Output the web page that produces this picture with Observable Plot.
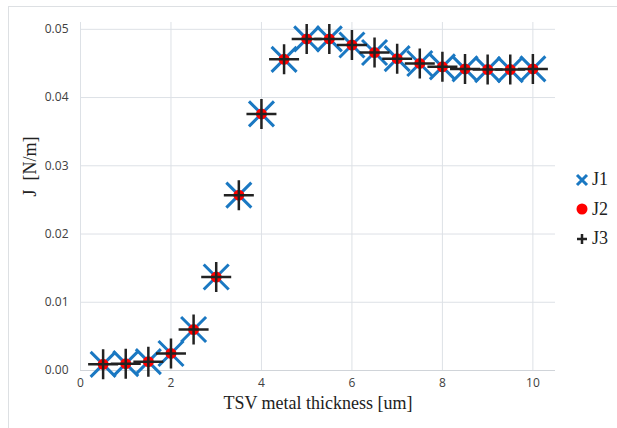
<!DOCTYPE html>
<html>
<head>
<meta charset="utf-8">
<script src="https://cdn.jsdelivr.net/npm/d3@7"></script>
<script src="https://cdn.jsdelivr.net/npm/@observablehq/plot@0.6"></script>
<style>
  body { margin: 0; background: #fff; }
  #wrap { position: relative; width: 617px; height: 428px; overflow: hidden; }
  #border { position: absolute; left: 8px; top: 6px; width: 640px; height: 440px; border: 1px solid #dde0e3; box-sizing: border-box; }
  #chart { position: absolute; left: 0; top: 0; }
  #legend { position: absolute; left: 574px; top: 165px; font-family: "Times New Roman", "DejaVu Serif", serif; font-size: 18px; color: #222; }
  .li { display: flex; align-items: center; height: 29.5px; }
  .li svg { margin-right: 2px; }
</style>
</head>
<body>
<div id="wrap">
  <div id="border"></div>
  <div id="chart"></div>
  <div id="legend">
    <div class="li"><svg width="16" height="16"><path d="M3,3L13,13M3,13L13,3" stroke="#1a78c2" stroke-width="3"/></svg>J1</div>
    <div class="li"><svg width="16" height="16"><circle cx="8" cy="8" r="5.5" fill="#ff0000"/></svg>J2</div>
    <div class="li"><svg width="16" height="16"><path d="M3,8L13,8M8,3L8,13" stroke="#222" stroke-width="2.5"/></svg>J3</div>
  </div>
</div>
<script>
const thickness = [0.5, 1, 1.5, 2, 2.5, 3, 3.5, 4, 4.5, 5, 5.5, 6, 6.5, 7, 7.5, 8, 8.5, 9, 9.5, 10];
const J1 = [0.0009, 0.0010, 0.0013, 0.0025, 0.0060, 0.0137, 0.0257, 0.0376, 0.0456, 0.0486, 0.0486, 0.0477, 0.0466, 0.0457, 0.0450, 0.0445, 0.0442, 0.0441, 0.0441, 0.0442];
const J2 = [0.0009, 0.0010, 0.0013, 0.0025, 0.0060, 0.0137, 0.0257, 0.0376, 0.0456, 0.0486, 0.0486, 0.0477, 0.0466, 0.0457, 0.0450, 0.0445, 0.0442, 0.0441, 0.0441, 0.0442];
const J3 = [0.0009, 0.0010, 0.0013, 0.0025, 0.0060, 0.0137, 0.0257, 0.0376, 0.0456, 0.0486, 0.0486, 0.0477, 0.0466, 0.0457, 0.0450, 0.0445, 0.0442, 0.0441, 0.0441, 0.0442];
const xTicks = [0, 2, 4, 6, 8, 10];
const yTicks = [0, 0.01, 0.02, 0.03, 0.04, 0.05];
const xLabel = "TSV metal thickness [um]";
const yLabel = "J\u00a0 [N/m]";
const serif = "'Times New Roman', 'DejaVu Serif', serif";

const data = thickness.map((x, i) => ({x, j1: J1[i], j2: J2[i], j3: J3[i]}));

const timesSym = {draw(ctx) { const r = 12.5; ctx.moveTo(-r, -r); ctx.lineTo(r, r); ctx.moveTo(-r, r); ctx.lineTo(r, -r); }};
const plusSym = {draw(ctx) { const r = 15; ctx.moveTo(-r, 0); ctx.lineTo(r, 0); ctx.moveTo(0, -r); ctx.lineTo(0, r); }};

const chart = Plot.plot({
  width: 617,
  height: 428,
  marginLeft: 80,
  marginRight: 62,
  marginTop: 22,
  marginBottom: 58,
  style: {fontFamily: "'Open Sans', sans-serif", fontSize: "12px", color: "#404040", background: "transparent"},
  x: {domain: [0, 10.5], ticks: xTicks, tickSize: 0, tickPadding: 8, label: null},
  y: {domain: [0, 0.051], ticks: yTicks, tickFormat: d3.format(".2f"), tickSize: 0, tickPadding: 12, label: null},
  marks: [
    Plot.gridX(xTicks, {stroke: "#dde1e6", strokeOpacity: 1}),
    Plot.gridY(yTicks, {stroke: "#dde1e6", strokeOpacity: 1}),
    Plot.ruleY([0], {stroke: "#d0d4d9"}),
    Plot.dot(data, {x: "x", y: "j1", symbol: timesSym, stroke: "#1a78c2", strokeWidth: 3, r: 10}),
    Plot.dot(data, {x: "x", y: "j2", fill: "#ff0000", r: 5.5}),
    Plot.dot(data, {x: "x", y: "j3", symbol: plusSym, stroke: "#222", strokeWidth: 2.5, r: 10}),
    Plot.text([xLabel], {frameAnchor: "bottom", dy: 38, text: d => d, fontFamily: serif, fontSize: 18, fill: "#222"}),
    Plot.text([yLabel], {frameAnchor: "left", dx: -50, rotate: -90, text: d => d, fontFamily: serif, fontSize: 18, fill: "#222"})
  ]
});
document.getElementById("chart").appendChild(chart);
</script>
</body>
</html>
